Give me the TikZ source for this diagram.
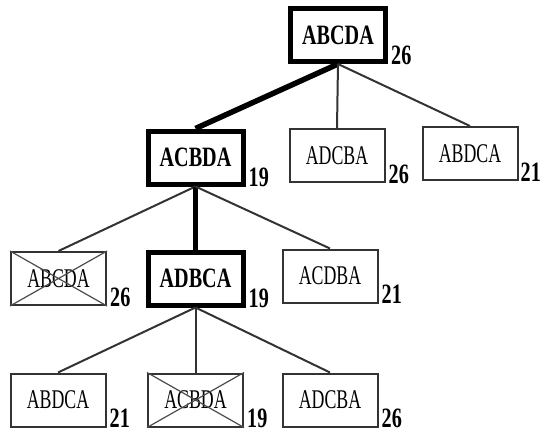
\documentclass[tikz,border=0pt]{standalone}
\usepackage{fontspec}
\newfontfamily\knotenfont[FakeStretch=0.66]{Liberation Serif}
\newfontfamily\wegfont[FakeStretch=0.72]{Liberation Serif}

\begin{document}
\begin{tikzpicture}[x=1pt,y=-1pt,
	tour/.style={draw=black!80,line width=2pt,fill=white,minimum width=95pt,minimum height=53pt,inner sep=0pt,
		font=\knotenfont\fontsize{27}{30}\selectfont},
	besttour/.style={tour,draw=black,line width=5pt,font=\wegfont\bfseries\fontsize{28}{30}\selectfont},
	kosten/.style={anchor=base west,inner sep=0pt,xshift=3pt,font=\wegfont\bfseries\fontsize{28}{30}\selectfont},
	kante/.style={draw=black!80,line width=2pt},
	pfad/.style={draw=black,line width=5.5pt},
	kreuz/.style={draw=black!70,line width=1.2pt}]
					\useasboundingbox (0,0) rectangle (542,434);
					% Ebene 0: Starttour
					\node[besttour] (s) at (338,35) {ABCDA};
					% Ebene 1
					\node[besttour] (a1) at (195.5,157.5) {ACBDA};
					\node[tour] (a2) at (337,155.5) {ADCBA};
					\node[tour] (a3) at (470,153.5) {ABDCA};
					% Ebene 2
					\node[tour] (b1) at (58.5,278.5) {ABCDA};
					\node[besttour] (b2) at (195.5,278.5) {ADBCA};
					\node[tour] (b3) at (330,276) {ACDBA};
					% Ebene 3
					\node[tour] (c1) at (58,400) {ABDCA};
					\node[tour] (c2) at (195.5,400) {ACBDA};
					\node[tour] (c3) at (330,400) {ADCBA};
					% Kanten: dick = gewaehlter Weg
					\draw[pfad] (s.south) -- (a1.north);
					\draw[kante] (s.south) -- (a2.north);
					\draw[kante] (s.south) -- (a3.north);
					\draw[kante] (a1.south) -- (b1.north);
					\draw[pfad] (a1.south) -- (b2.north);
					\draw[kante] (a1.south) -- (b3.north);
					\draw[kante] (b2.south) -- (c1.north);
					\draw[kante] (b2.south) -- (c2.north);
					\draw[kante] (b2.south) -- (c3.north);
					% verworfene Touren
					\foreach \n in {b1,c2}
					\draw[kreuz] (\n.north west) -- (\n.south east) (\n.north east) -- (\n.south west);
					% Kosten
					\node[kosten] (ks) at (s.south east) {26};
					\node[kosten] (ka1) at (a1.south east) {19};
					\node[kosten] (ka2) at (a2.south east) {26};
					\node[kosten,xshift=-1pt] (ka3) at (a3.south east) {21};
					\node[kosten] (kb1) at (b1.south east) {26};
					\node[kosten] (kb2) at (b2.south east) {19};
					\node[kosten] (kb3) at (b3.south east) {21};
					\node[kosten] (kc1) at (c1.south east) {21};
					\node[kosten] (kc2) at (c2.south east) {19};
					\node[kosten] (kc3) at (c3.south east) {26};
\end{tikzpicture}
\end{document}
